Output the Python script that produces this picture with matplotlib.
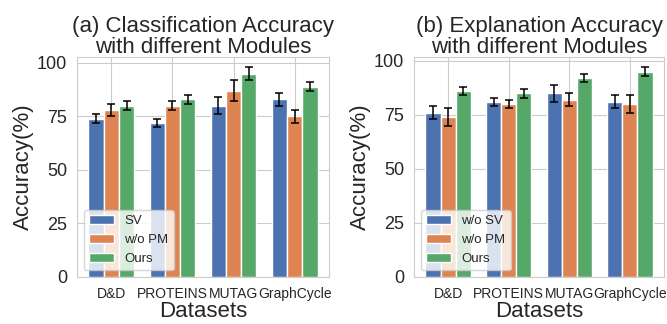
import numpy as np
import matplotlib
matplotlib.use("Agg")
import matplotlib.pyplot as plt
import seaborn as sns

datasets = ["D&D", "PROTEINS", "MUTAG", "GraphCycle"]

# (a) classification accuracy
cls_labels = ["SV", "w/o PM", "Ours"]
cls_sv = [74, 72, 80, 83]
cls_sv_err = [2, 2, 4, 3]
cls_pm = [78, 80, 87, 75]
cls_pm_err = [3, 2, 5, 3]
cls_ours = [80, 83, 95, 89]
cls_ours_err = [2, 2, 3, 2]

# (b) explanation accuracy
exp_labels = ["w/o SV", "w/o PM", "Ours"]
exp_sv = [76, 81, 85, 81]
exp_sv_err = [3, 2, 4, 3]
exp_pm = [74, 80, 82, 80]
exp_pm_err = [4, 2, 3, 4]
exp_ours = [86, 85, 92, 95]
exp_ours_err = [2, 2, 2, 2]

sns.set_style("whitegrid")
plt.rcParams['font.family'] = ['Liberation Sans', 'DejaVu Sans']
colors = sns.color_palette("deep")[:3]

fig = plt.figure(figsize=(6.67, 3.24), dpi=100)
ax_a = fig.add_axes([0.1154, 0.1451, 0.3778, 0.6797])
ax_b = fig.add_axes([0.6207, 0.1451, 0.3748, 0.6797])

x = np.arange(len(datasets))
w = 0.25

def draw(ax, series, errs, labels, title):
    for i, (vals, err, lab) in enumerate(zip(series, errs, labels)):
        ax.bar(x + (i - 1) * w, vals, w, yerr=err, color=colors[i], label=lab,
               edgecolor='white', linewidth=1, capsize=3,
               error_kw=dict(elinewidth=1.1, capthick=1.1, ecolor='black'))
    ax.set_xticks(x)
    ax.set_xticklabels(datasets, fontsize=10)
    ax.set_yticks([0, 25, 50, 75, 100])
    ax.tick_params(axis='y', labelsize=13)
    ax.set_xlabel("Datasets", fontsize=16, labelpad=0)
    ax.set_ylabel("Accuracy(%)", fontsize=16, labelpad=2)
    ax.set_title(title, fontsize=16, linespacing=0.95, pad=3)
    ax.legend(loc='lower left', fontsize=9.5, handlelength=1.9)

draw(ax_a, [cls_sv, cls_pm, cls_ours], [cls_sv_err, cls_pm_err, cls_ours_err], cls_labels,
     "(a) Classification Accuracy\nwith different Modules")
draw(ax_b, [exp_sv, exp_pm, exp_ours], [exp_sv_err, exp_pm_err, exp_ours_err], exp_labels,
     "(b) Explanation Accuracy\nwith different Modules")

fig.savefig("out.png", dpi=100)
